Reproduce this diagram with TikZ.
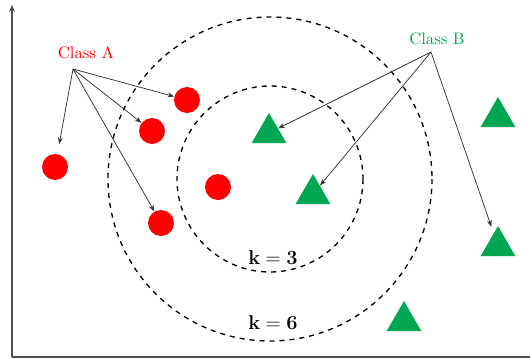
\documentclass[tikz,border=0pt]{standalone}
\usepackage{amsmath}
\usetikzlibrary{positioning,arrows.meta,shapes.geometric}
\definecolor{classred}{rgb}{1, 0, 0}
\definecolor{classgreen}{RGB}{0, 166, 81}
\definecolor{axisgray}{RGB}{80, 80, 80}

\begin{document}
\begin{tikzpicture}[x=0.6pt,y=-0.6pt]
\useasboundingbox (0,0) rectangle (530,359);

% 1. Koordinaten
\coordinate (o) at (12,356.7);
\coordinate (ytop) at (12,5);
\coordinate (xend) at (530,356.7);
\coordinate (m) at (270,179);
\coordinate (a0) at (73,69);
\coordinate (b0) at (431,52);

% 2. Stile
\tikzset{
  punkt/.style={
    circle,
    fill=classred,
    inner sep=0pt,
    minimum size=15.6pt
  },
  dreieck/.style={
    regular polygon,
    regular polygon sides=3,
    fill=classgreen,
    inner sep=0pt,
    minimum size=24pt
  },
  pfeil/.style={
    line width=0.45pt,
    color=black!80,
    -{Stealth[length=4pt,width=3pt]}
  },
  achse/.style={
    color=axisgray,
    line width=1.2pt
  },
  kreis/.style={
    dashed,
    line width=0.8pt
  }
}

% 3. Achsen und Kreise
\draw [achse] (o) -- (xend);
\draw [achse, -{Stealth[length=4pt,width=3.5pt]}] (o) -- (ytop);
\draw [kreis] (m) circle [radius=93];
\draw [kreis] (m) circle [radius=162];

% 4. Punkte der Klassen
\node [punkt] (a1) at (55,167) {};
\node [punkt] (a2) at (187,100) {};
\node [punkt] (a3) at (152,131) {};
\node [punkt] (a4) at (161,223) {};
\node [punkt] (a5) at (218,187) {};

\node [dreieck] (b1) at (269,133) {};
\node [dreieck] (b2) at (313,194) {};
\node [dreieck] (b3) at (498,117) {};
\node [dreieck] (b4) at (498,246) {};
\node [dreieck] (b5) at (404,321) {};

% 5. Beschriftungen
\node [text=classred] (la) at (86,52.5) {Class A};
\node [text=classgreen] (lb) at (437,39) {Class B};
\node (k3) at (273,258) {\large $\mathbf{k=3}$};
\node (k6) at (273,323) {\large $\mathbf{k=6}$};

% 6. Pfeile
\draw [pfeil, shorten >=6pt] (a0) -- (a1);
\draw [pfeil] (a0) -- (a2);
\draw [pfeil] (a0) -- (a3);
\draw [pfeil] (a0) -- (a4);

\draw [pfeil] (b0) -- (b1);
\draw [pfeil] (b0) -- (b2);
\draw [pfeil, shorten >=4pt] (b0) -- (b4);

\end{tikzpicture}
\end{document}
